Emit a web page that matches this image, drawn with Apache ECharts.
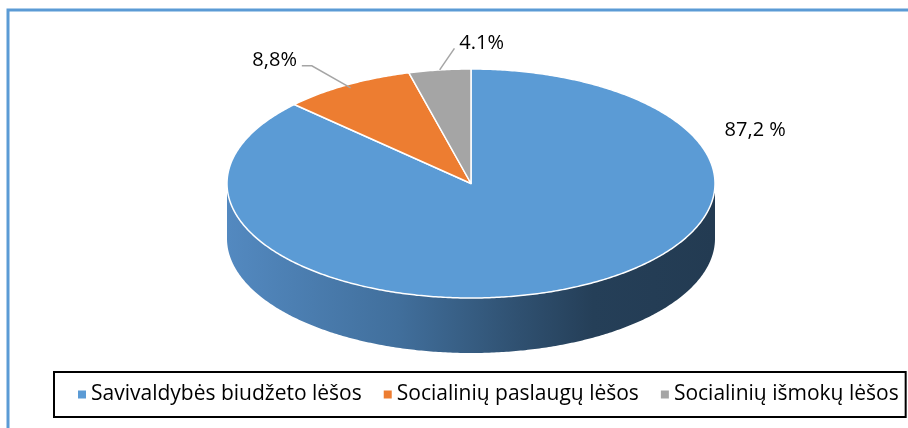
<!DOCTYPE html>
<html>
<head>
<meta charset="utf-8">
<script src="https://cdn.jsdelivr.net/npm/echarts@6/dist/echarts.min.js"></script>
<style>
  html, body { margin: 0; padding: 0; background: #fff; }
  #chart { width: 908px; height: 428px; }
</style>
</head>
<body>
<div id="chart"></div>
<script>
const categories = ['Savivaldybės biudžeto lėšos', 'Socialinių paslaugų lėšos', 'Socialinių išmokų lėšos'];
const shares = [87.2, 8.8, 4.1];
const labels = ['87,2 %', '8,8%', '4.1%'];
const colors = ['#5b9bd5', '#ed7d31', '#a5a5a5'];

// layout of the tilted pie
const cx = 471, cy = 183.5, rx = 244, ry = 114.5, depth = 55;
// label offset from the slice's rim midpoint, and leader style
const labelOffset = [[191, -155], [-76, -28], [41, -30]];
const leaderType = [null, 'elbow', 'straight'];

const total = shares.reduce((a, b) => a + b, 0);
const starts = [];
let acc = 0;
shares.forEach(v => { starts.push(acc / total * Math.PI * 2); acc += v; });

function pt(t, dz, k) {
    k = k || 1;
    return [cx + rx * k * Math.sin(t), cy - ry * k * Math.cos(t) + (dz || 0)];
}

function arc(a0, a1, dz) {
    const pts = [];
    const n = Math.max(2, Math.ceil((a1 - a0) / 0.01));
    for (let j = 0; j <= n; j++) pts.push(pt(a0 + (a1 - a0) * j / n, dz));
    return pts;
}

const wallFill = {
    type: 'linear', x: cx - rx, y: 0, x2: cx + rx, y2: 0, global: true,
    colorStops: [
        { offset: 0, color: '#5389c0' },
        { offset: 0.35, color: '#416f9c' },
        { offset: 0.6, color: '#2f5070' },
        { offset: 0.75, color: '#253f58' },
        { offset: 1, color: '#233b52' }
    ]
};

function renderSlice(i) {
    return function (params, api) {
        const a0 = starts[i];
        const a1 = a0 + api.value(0) / total * Math.PI * 2;
        const children = [];
        // visible front wall
        const b0 = Math.max(a0, Math.PI / 2), b1 = Math.min(a1, Math.PI * 1.5);
        if (b1 > b0) {
            const top = arc(b0, b1, 0);
            const bottom = arc(b0, b1, depth).reverse();
            children.push({
                type: 'polygon', z2: 1,
                shape: { points: top.concat(bottom) },
                style: { fill: i === 0 ? wallFill : colors[i], stroke: null }
            });
        }
        // top face
        children.push({
            type: 'polygon', z2: 2,
            shape: { points: [[cx, cy]].concat(arc(a0, a1, 0)) },
            style: { fill: colors[i], stroke: '#fff', lineWidth: 1.5, lineJoin: 'round' }
        });
        // label
        const mid = (a0 + a1) / 2;
        const rim = pt(mid, 0, 0.97);
        const lx = rim[0] + labelOffset[i][0], ly = rim[1] + labelOffset[i][1];
        const halfW = labels[i].length * 5.8;
        if (leaderType[i] === 'elbow') {
            children.push({
                type: 'polyline', z2: 3,
                shape: { points: [rim, [lx + halfW + 14, ly + 6], [lx + halfW + 4, ly + 6]] },
                style: { stroke: '#a5a5a5', lineWidth: 1.5, fill: null }
            });
        } else if (leaderType[i] === 'straight') {
            children.push({
                type: 'polyline', z2: 3,
                shape: { points: [pt(mid, 0, 1), [lx - halfW - 4, ly + 5]] },
                style: { stroke: '#a5a5a5', lineWidth: 1.5, fill: null }
            });
        }
        children.push({
            type: 'text', z2: 4,
            style: {
                text: labels[i], x: lx, y: ly, align: 'center', verticalAlign: 'middle',
                font: '20px "Open Sans"', fill: '#000'
            }
        });
        return { type: 'group', children: children };
    };
}

const chart = echarts.init(document.getElementById('chart'));
chart.setOption({
    animation: false,
    backgroundColor: '#fff',
    graphic: [{
        type: 'rect', z: -1,
        shape: { x: 8, y: 10, width: 920, height: 440 },
        style: { fill: null, stroke: '#5b9bd5', lineWidth: 3 }
    }],
    legend: {
        data: categories,
        left: 54, top: 372,
        padding: [12, 7, 12, 24],
        itemGap: 22,
        itemWidth: 8, itemHeight: 8,
        icon: 'rect',
        borderColor: '#000', borderWidth: 2,
        textStyle: { fontSize: 21, fontFamily: 'Open Sans', color: '#000' }
    },
    series: categories.map((name, i) => ({
        type: 'custom',
        name: name,
        coordinateSystem: 'none',
        itemStyle: { color: colors[i] },
        data: [shares[i]],
        renderItem: renderSlice(i)
    }))
});
</script>
</body>
</html>
